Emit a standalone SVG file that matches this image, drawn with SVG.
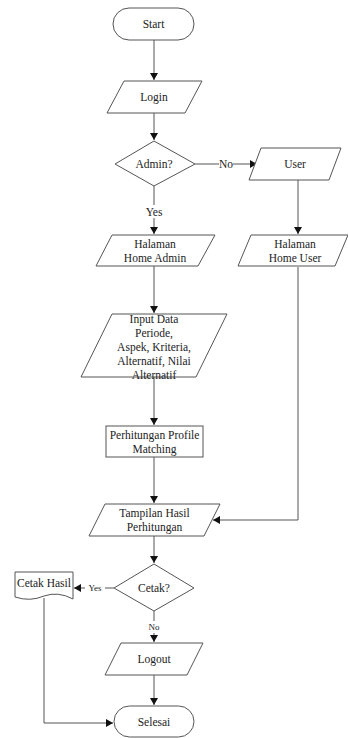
<svg xmlns="http://www.w3.org/2000/svg" width="348" height="738" viewBox="0 0 348 738">
<style>
.s{fill:#fff;stroke:#555;stroke-width:1}
.c{fill:none;stroke:#555;stroke-width:1}
text{font-family:'Liberation Serif','DejaVu Serif',serif;font-size:11.5px;fill:#222;text-anchor:middle;dominant-baseline:central}
.sm{font-size:9px}
</style>
<defs>
<marker id="a" markerWidth="8" markerHeight="8" refX="7" refY="4" orient="auto" markerUnits="userSpaceOnUse">
<path d="M0,0 L7,4 L0,8 Z" fill="#111"/>
</marker>
</defs>
<g id="connectors">
<line class="c" x1="154" y1="40" x2="154" y2="80" marker-end="url(#a)"/>
<line class="c" x1="154" y1="113" x2="154" y2="140" marker-end="url(#a)"/>
<line class="c" x1="195" y1="164" x2="257" y2="164" marker-end="url(#a)"/>
<line class="c" x1="154" y1="186" x2="154" y2="234" marker-end="url(#a)"/>
<line class="c" x1="298" y1="180" x2="298" y2="234" marker-end="url(#a)"/>
<line class="c" x1="154" y1="266" x2="154" y2="313" marker-end="url(#a)"/>
<line class="c" x1="154" y1="377" x2="154" y2="425" marker-end="url(#a)"/>
<line class="c" x1="154" y1="457" x2="154" y2="503" marker-end="url(#a)"/>
<polyline class="c" points="298,267 298,520 213,520" marker-end="url(#a)"/>
<line class="c" x1="154" y1="536" x2="154" y2="563" marker-end="url(#a)"/>
<line class="c" x1="114" y1="588" x2="74" y2="588" marker-end="url(#a)"/>
<line class="c" x1="154" y1="611" x2="154" y2="642" marker-end="url(#a)"/>
<line class="c" x1="154" y1="675" x2="154" y2="705" marker-end="url(#a)"/>
<polyline class="c" points="44,598 44,723 113,723" marker-end="url(#a)"/>
<rect x="219" y="158" width="14" height="12" fill="#fff"/>
<text x="226" y="164">No</text>
<rect x="144" y="205" width="20" height="13" fill="#fff"/>
<text x="154" y="212">Yes</text>
<rect x="85" y="583" width="20" height="10" fill="#fff"/>
<text class="sm" x="95" y="588">Yes</text>
<rect x="147" y="621" width="14" height="12" fill="#fff"/>
<text class="sm" x="154" y="627">No</text>
</g>
<g id="start">
<rect class="s" x="113" y="8" width="81" height="32" rx="16"/>
<text x="153.5" y="24">Start</text>
</g>
<g id="login">
<polygon class="s" points="124,81 202,81 185,113 107,113"/>
<text x="154" y="97">Login</text>
</g>
<g id="admin">
<polygon class="s" points="154,141 195,164 154,186 115,164"/>
<text x="154" y="164">Admin?</text>
</g>
<g id="user">
<polygon class="s" points="261,148 341,148 329,180 249,180"/>
<text x="295" y="164">User</text>
</g>
<g id="home-admin">
<polygon class="s" points="112,235 215,235 198,266 96,266"/>
<text x="155" y="244">Halaman</text>
<text x="155" y="258">Home Admin</text>
</g>
<g id="home-user">
<polygon class="s" points="251,235 348,235 335,266 238,266"/>
<text x="295" y="244">Halaman</text>
<text x="295" y="258">Home User</text>
</g>
<g id="input-data">
<polygon class="s" points="112,314 227,314 196,377 81,377"/>
<text x="154" y="319">Input Data</text>
<text x="154" y="333">Periode,</text>
<text x="154" y="347">Aspek, Kriteria,</text>
<text x="154" y="361">Alternatif, Nilai</text>
<text x="154" y="375">Alternatif</text>
</g>
<g id="perhitungan">
<rect class="s" x="106" y="426" width="97" height="31"/>
<text x="154.5" y="435">Perhitungan Profile</text>
<text x="154.5" y="449">Matching</text>
</g>
<g id="tampilan">
<polygon class="s" points="105,504 220,504 204,536 89,536"/>
<text x="154.5" y="513">Tampilan Hasil</text>
<text x="154.5" y="527">Perhitungan</text>
</g>
<g id="cetak">
<polygon class="s" points="154,564 194,588 154,611 114,588"/>
<text x="154" y="588">Cetak?</text>
</g>
<g id="cetak-hasil">
<path class="s" d="M15,572 H73 V599 Q58,591 44,596 Q30,602 15,597 Z"/>
<text x="44" y="583">Cetak Hasil</text>
</g>
<g id="logout">
<polygon class="s" points="121,643 203,643 187,675 105,675"/>
<text x="154" y="659">Logout</text>
</g>
<g id="selesai">
<rect class="s" x="114" y="706" width="80" height="31" rx="15.5"/>
<text x="154" y="721.5">Selesai</text>
</g>
</svg>
